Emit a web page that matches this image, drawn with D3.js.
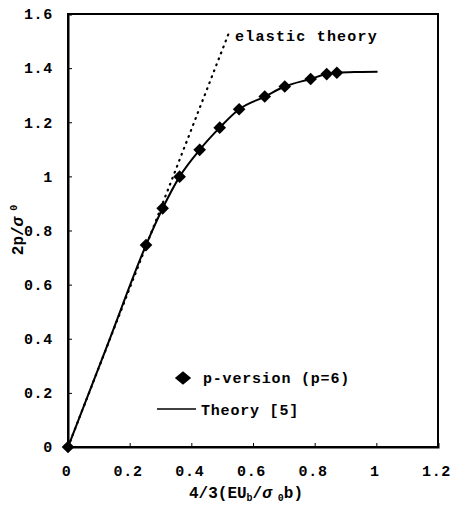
<!DOCTYPE html>
<html>
<head>
<meta charset="utf-8">
<script src="https://cdn.jsdelivr.net/npm/d3@7"></script>
<style>
body { margin: 0; background: #fff; }
text { font-family: "Liberation Mono", monospace; font-weight: bold; fill: #000; }
</style>
</head>
<body>
<div id="chart"></div>
<script>
// data
let xTicks = [0, 0.2, 0.4, 0.6, 0.8, 1, 1.2];
let yTicks = [0, 0.2, 0.4, 0.6, 0.8, 1, 1.2, 1.4, 1.6];

let pversionX = [0, 0.253, 0.307, 0.362, 0.427, 0.492, 0.555, 0.638, 0.703, 0.787, 0.839, 0.872];
let pversionY = [0, 0.746, 0.882, 0.999, 1.098, 1.18, 1.248, 1.295, 1.332, 1.36, 1.378, 1.383];

let theoryX = [0, 0.13, 0.253, 0.307, 0.362, 0.427, 0.492, 0.555, 0.638, 0.703, 0.787, 0.839, 0.872, 0.94, 1.004];
let theoryY = [0, 0.383, 0.746, 0.882, 0.999, 1.098, 1.18, 1.248, 1.295, 1.332, 1.36, 1.378, 1.383, 1.386, 1.387];

let elasticX = [0, 0.521];
let elasticY = [0, 1.528];

let margin = {top: 14, right: 13, bottom: 67, left: 68};
let width = 451 - margin.left - margin.right;
let height = 514 - margin.top - margin.bottom;

let svg = d3.select('#chart')
    .append('svg')
    .attr('width', 451)
    .attr('height', 514)
    .append('g')
    .attr('transform', 'translate(' + margin.left + ',' + margin.top + ')');

let x = d3.scaleLinear().domain([0, 1.2]).range([0, width]);
let y = d3.scaleLinear().domain([0, 1.6]).range([height, 0]);

// frame
svg.append('rect')
    .attr('width', width)
    .attr('height', height)
    .attr('fill', 'none')
    .attr('stroke', '#000')
    .attr('stroke-width', 2);

let xAxis = svg.append('g')
    .attr('transform', 'translate(0,' + height + ')')
    .call(d3.axisBottom(x).tickValues(xTicks).tickSize(-4).tickPadding(18).tickFormat(d3.format('')));
xAxis.select('.domain').attr('stroke-width', 2);
xAxis.selectAll('.tick text')
    .attr('font-size', 15)
    .attr('font-family', null)
    .attr('letter-spacing', 0.7)
    .attr('dx', -2);

let yAxis = svg.append('g')
    .call(d3.axisLeft(y).tickValues(yTicks).tickSize(-4).tickPadding(15).tickFormat(d3.format('')));
yAxis.select('.domain').attr('stroke-width', 2);
yAxis.selectAll('.tick text')
    .attr('font-size', 15)
    .attr('font-family', null)
    .attr('letter-spacing', 0.7);

let line = d3.line()
    .x(function (d) { return x(d[0]); })
    .y(function (d) { return y(d[1]); });

// elastic theory (dotted)
svg.append('path')
    .datum(d3.zip(elasticX, elasticY))
    .attr('d', line)
    .attr('fill', 'none')
    .attr('stroke', '#000')
    .attr('stroke-width', 2.2)
    .attr('stroke-linecap', 'round')
    .attr('stroke-dasharray', '0.8,5.6');

// theory curve
svg.append('path')
    .datum(d3.zip(theoryX, theoryY))
    .attr('d', line.curve(d3.curveMonotoneX))
    .attr('fill', 'none')
    .attr('stroke', '#000')
    .attr('stroke-width', 2);

// p-version markers
let diamond = d3.symbol().type(d3.symbolSquare).size(80);
svg.selectAll('.pt')
    .data(d3.zip(pversionX, pversionY))
    .enter()
    .append('path')
    .attr('class', 'pt')
    .attr('d', diamond)
    .attr('transform', function (d) {
        return 'translate(' + x(d[0]) + ',' + y(d[1]) + ') rotate(45)';
    })
    .attr('fill', '#000');

svg.append('text')
    .attr('x', x(0.542))
    .attr('y', 27)
    .attr('font-size', 15)
    .attr('letter-spacing', 1.2)
    .text('elastic theory');

// legend
svg.append('path')
    .attr('d', d3.symbol().type(d3.symbolSquare).size(110))
    .attr('transform', 'translate(115,364) scale(1.1,0.9) rotate(45)')
    .attr('fill', '#000');
svg.append('text')
    .attr('x', 135)
    .attr('y', 369)
    .attr('font-size', 15)
    .attr('letter-spacing', 0.8)
    .text('p-version (p=6)');
svg.append('line')
    .attr('x1', 89).attr('x2', 128)
    .attr('y1', 395).attr('y2', 395)
    .attr('stroke', '#000')
    .attr('stroke-width', 1.5);
svg.append('text')
    .attr('x', 133)
    .attr('y', 401)
    .attr('font-size', 15)
    .attr('letter-spacing', 0.8)
    .text('Theory [5]');

// axis titles
let xt = svg.append('text')
    .attr('x', 178)
    .attr('y', 484)
    .attr('text-anchor', 'middle')
    .attr('font-size', 16);
xt.append('tspan').text('4/3(EU');
xt.append('tspan').attr('font-size', 10).attr('dy', 3).text('b');
xt.append('tspan').attr('dy', -3).text('/');
xt.append('tspan').attr('font-style', 'italic').text('σ');
xt.append('tspan').attr('font-size', 10).attr('dy', 3).text(' 0');
xt.append('tspan').attr('dy', -3).text('b)');

let yt = svg.append('text')
    .attr('transform', 'translate(-45,216) rotate(-90)')
    .attr('text-anchor', 'middle')
    .attr('font-size', 16);
yt.append('tspan').text('2p/');
yt.append('tspan').attr('font-style', 'italic').text('σ');
yt.append('tspan').attr('font-size', 10).attr('dy', -6).text(' 0');
</script>
</body>
</html>
